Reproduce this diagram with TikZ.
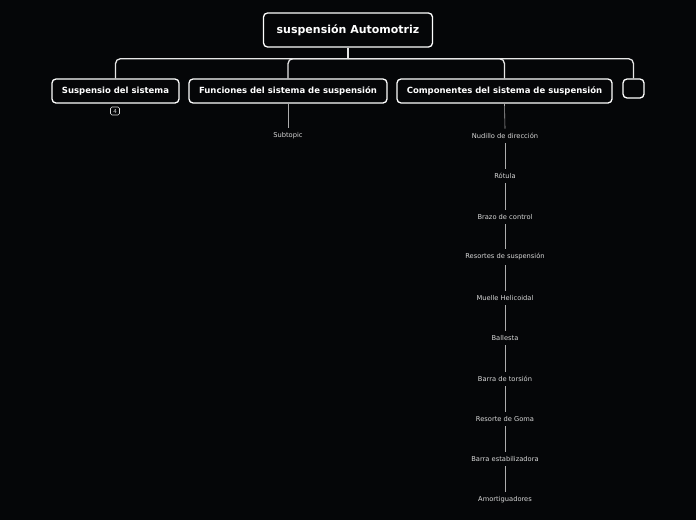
\documentclass[tikz,border=0pt]{standalone}
\usepackage{fontspec}
\setmainfont{DejaVu Sans}
\definecolor{bgblack}{HTML}{050608}
\definecolor{linegray}{HTML}{E6E6E6}
\definecolor{subgray}{HTML}{D8D8D8}
\begin{document}
\begin{tikzpicture}[
        x=1pt, y=-1pt,
        font=\fontsize{6.7}{8}\selectfont,
        topicbox/.style={draw=white, line width=1.3pt, rounded corners=4pt, fill=bgblack, text=white, inner sep=0pt, font=\bfseries\fontsize{8.5}{10}\selectfont, minimum height=24pt},
        rootbox/.style={topicbox, font=\bfseries\fontsize{11}{13}\selectfont, minimum width=169pt, minimum height=34pt},
        subtopic/.style={text=subgray, inner xsep=1pt, inner ysep=4.5pt},
        badge/.style={draw=subgray, line width=0.6pt, rounded corners=1.5pt, text=subgray, inner sep=0pt, minimum width=9pt, minimum height=8pt, font=\fontsize{5.5}{6}\selectfont},
        mainline/.style={draw=linegray, line width=1.3pt, rounded corners=5pt},
        subline/.style={draw=subgray!80!black, line width=0.6pt}
    ]
    \useasboundingbox[fill=bgblack] (0,0) rectangle (696,520);

    %Central topic

    \node[rootbox] (root) at (348,30) {suspensión Automotriz};
    \path (root.south) ++(0,11) coordinate (bus);

    %Main topics

    \node[topicbox, minimum width=127pt] (sys) at (115.5,91) {Suspensio del sistema};
    \node[topicbox, minimum width=198pt] (func) at (288,91) {Funciones del sistema de suspensión};
    \node[topicbox, minimum width=215pt] (comp) at (504.5,91) {Componentes del sistema de suspensión};
    \node[topicbox, minimum width=21pt, minimum height=19pt] (blank) at (633.5,88.5) {};

    \draw[mainline] (root.south) -- (bus);
    \draw[mainline] (bus) -| (sys.north);
    \draw[mainline] (bus) -| (func.north);
    \draw[mainline] (bus) -| (comp.north);
    \draw[mainline] (bus) -| (blank.north);

    \node[badge] (count) at (115,111) {4};

    %% Funciones: subtopic

    \node[subtopic] (fsub) at (288,136) {Subtopic};
    \draw[subline] (func.south) -- (fsub.north);

    %% Componentes: list of parts

    \foreach \name/\ypos/\txt in {c1/136/Nudillo de dirección, c2/176/Rótula, c3/217/Brazo de control,
            c4/257/Resortes de suspensión, c5/298/Muelle Helicoidal, c6/338/Ballesta,
            c7/379/Barra de torsión, c8/419/Resorte de Goma, c9/459/Barra estabilizadora,
            c10/500/Amortiguadores}
        \node[subtopic] (\name) at (505,\ypos) {\txt};

    \draw[subline] (comp.south) -- (c1.north);
    \foreach \a/\b in {c1/c2, c2/c3, c3/c4, c4/c5, c5/c6, c6/c7, c7/c8, c8/c9, c9/c10}
        \draw[subline] (\a.south) -- (\b.north);

\end{tikzpicture}
\end{document}
